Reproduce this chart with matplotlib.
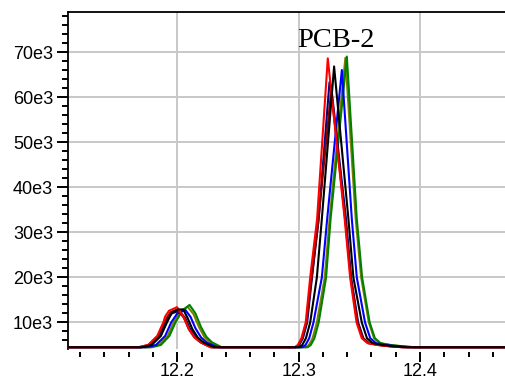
import matplotlib
matplotlib.use("Agg")
import matplotlib.pyplot as plt
from matplotlib.ticker import MultipleLocator, FuncFormatter

# retention time (min) / intensity (counts), one trace per injection
red_rt = [12.110, 12.168, 12.176, 12.1835, 12.1885, 12.190, 12.1932, 12.1998, 12.2052, 12.2093, 12.2140, 12.2189, 12.2272,
          12.2968, 12.2993, 12.3023, 12.3058, 12.3095, 12.3152, 12.3240, 12.3379, 12.3424, 12.3477, 12.3520, 12.3567,
          12.3647, 12.3747, 12.3847, 12.470]
red_int = [4500, 4500, 5000, 7000, 10000, 11300, 12600, 13400, 11300, 8700, 6800, 5700, 4500,
           4500, 5000, 6500, 10000, 20000, 33000, 68700, 33000, 20000, 10000, 6500, 5400, 5000, 4700, 4500, 4500]

darkred_rt = [12.110, 12.1685, 12.1765, 12.1840, 12.1890, 12.1945, 12.2000, 12.2055, 12.2095, 12.2140, 12.2190, 12.2275,
              12.2975, 12.3000, 12.3030, 12.3065, 12.3105, 12.3160, 12.3268, 12.3385, 12.3430, 12.3485, 12.3528, 12.3575,
              12.3655, 12.3755, 12.3855, 12.470]
darkred_int = [4500, 4500, 5000, 7000, 10000, 12300, 12900, 11000, 8500, 6700, 5600, 4500,
               4500, 5000, 6600, 10200, 19500, 32000, 61500, 32500, 19800, 10000, 6500, 5400, 5000, 4700, 4500, 4500]

navy_rt = [12.110, 12.170, 12.178, 12.185, 12.190, 12.1955, 12.2015, 12.2065, 12.2105, 12.2150, 12.2200, 12.2285,
           12.2980, 12.3005, 12.3035, 12.3070, 12.3110, 12.3165, 12.3254, 12.3270, 12.3390, 12.3432, 12.3490, 12.3533,
           12.3580, 12.3660, 12.3760, 12.3860, 12.470]
navy_int = [4500, 4500, 5000, 7000, 10000, 12000, 12600, 11000, 8600, 6700, 5500, 4500,
            4500, 5000, 6500, 10000, 20000, 33000, 63400, 62000, 33000, 20000, 10000, 6500, 5400, 5000, 4700, 4500, 4500]

black_rt = [12.110, 12.171, 12.179, 12.1865, 12.1915, 12.1955, 12.2008, 12.2049, 12.2085, 12.2125, 12.2170, 12.2220, 12.2305,
            12.3005, 12.3030, 12.3060, 12.3095, 12.3150, 12.3191, 12.3292, 12.3410, 12.3451, 12.3520, 12.3563, 12.3610,
            12.3690, 12.3790, 12.3890, 12.470]
black_int = [4500, 4500, 5000, 7000, 10000, 12200, 12900, 12900, 11000, 8500, 6600, 5500, 4500,
             4500, 5000, 6500, 10000, 20000, 33000, 66900, 33000, 20000, 10000, 6500, 5400, 5000, 4700, 4500, 4500]

blue_rt = [12.110, 12.1745, 12.1825, 12.190, 12.195, 12.2000, 12.2066, 12.2110, 12.2150, 12.2195, 12.2245, 12.2330,
           12.3032, 12.3057, 12.3087, 12.3122, 12.3191, 12.3235, 12.3356, 12.3438, 12.3479, 12.3547, 12.3590, 12.3637,
           12.3717, 12.3817, 12.3917, 12.470]
blue_int = [4500, 4500, 5000, 7000, 10000, 12000, 12800, 11200, 8700, 6700, 5500, 4500,
            4500, 5000, 6500, 10000, 20000, 33000, 66100, 33000, 20000, 10000, 6500, 5400, 5000, 4700, 4500, 4500]

olive_rt = [12.110, 12.1775, 12.1850, 12.1920, 12.1970, 12.2025, 12.2085, 12.2135, 12.2180, 12.2225, 12.2270, 12.2350,
            12.3060, 12.3085, 12.3115, 12.3150, 12.3215, 12.3255, 12.3385, 12.3470, 12.3515, 12.3578, 12.3621, 12.3668,
            12.3748, 12.3848, 12.3948, 12.470]
olive_int = [4500, 4500, 5000, 7000, 10000, 12400, 13500, 11800, 8900, 6700, 5500, 4500,
             4500, 5000, 6500, 10000, 20000, 33000, 68800, 33000, 20000, 10000, 6500, 5400, 5000, 4700, 4500, 4500]

green_rt = [12.110, 12.1790, 12.1865, 12.1935, 12.1985, 12.2040, 12.2101, 12.2150, 12.2195, 12.2240, 12.2285, 12.2365,
            12.3075, 12.3100, 12.3130, 12.3165, 12.3226, 12.3263, 12.3397, 12.3479, 12.3523, 12.3585, 12.3628, 12.3675,
            12.3755, 12.3855, 12.3955, 12.470]
green_int = [4500, 4500, 5000, 7000, 10000, 12600, 13900, 12000, 9000, 6800, 5600, 4500,
             4500, 5000, 6500, 10000, 20000, 33000, 69100, 33000, 20000, 10000, 6500, 5400, 5000, 4700, 4500, 4500]

title = "PCB-2"

fig = plt.figure(figsize=(5.05, 3.76), dpi=100)
ax = fig.add_axes([0.1347, 0.0718, 0.8653, 0.8963])

# drawing order: last one ends up on top
traces = [
    (olive_rt, olive_int, "#808000"),
    (green_rt, green_int, "#008000"),
    (blue_rt, blue_int, "#0000ff"),
    (navy_rt, navy_int, "#000080"),
    (darkred_rt, darkred_int, "#8b0000"),
    (red_rt, red_int, "#ff0000"),
    (black_rt, black_int, "#000000"),
]
for rt, inten, color in traces:
    ax.plot(rt, inten, color=color, lw=1.5, zorder=3)

ax.set_xlim(12.110, 12.470)
ax.set_ylim(4100, 79000)

ax.xaxis.set_major_locator(MultipleLocator(0.1))
ax.xaxis.set_minor_locator(MultipleLocator(0.02))
ax.yaxis.set_major_locator(MultipleLocator(10000))
ax.yaxis.set_minor_locator(MultipleLocator(2000))
ax.xaxis.set_major_formatter(FuncFormatter(lambda v, p: f"{v:.1f}"))
ax.yaxis.set_major_formatter(FuncFormatter(lambda v, p: f"{v / 1000:.0f}e3"))

ax.grid(True, which="major", color="#c8c8c8", lw=1.4, zorder=0)
ax.set_axisbelow(True)

ax.spines["right"].set_visible(False)
ax.spines["bottom"].set_visible(False)
ax.spines["bottom"].set_position(("outward", 2.5))
ax.spines["left"].set_linewidth(1.3)
ax.spines["top"].set_linewidth(1.3)

ax.tick_params(axis="y", which="major", direction="out", length=7.9, width=1.4, pad=2.9,
               labelsize=13, labelfontfamily="Liberation Sans")
ax.tick_params(axis="y", which="minor", direction="out", length=4.3, width=1.4)
ax.tick_params(axis="x", which="major", direction="out", length=7.2, width=1.4, pad=0.5,
               labelsize=13, labelfontfamily="Liberation Sans")
ax.tick_params(axis="x", which="minor", direction="out", length=3.6, width=1.4)

ax.text(12.331, 71200, title, ha="center", va="baseline", fontsize=20.5,
        family="Liberation Serif", zorder=4)

fig.savefig("out.png", dpi=100)
